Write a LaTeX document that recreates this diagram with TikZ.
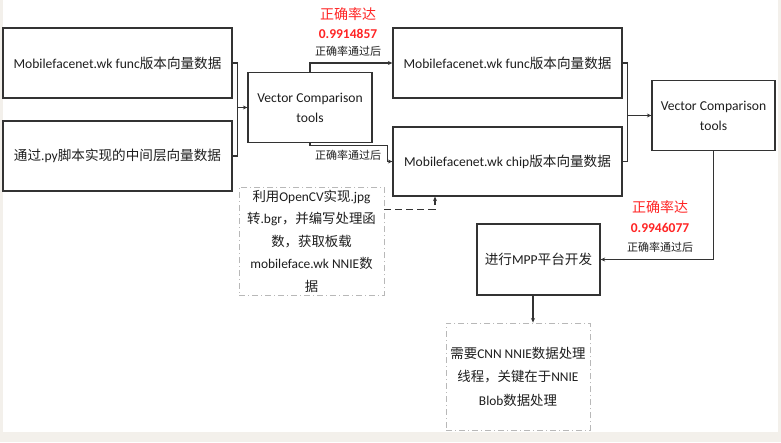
\documentclass[tikz,border=0pt]{standalone}
\usepackage{fontspec}
\setmainfont{Carlito}
\newfontfamily\cjk{Noto Sans CJK SC}
\usetikzlibrary{arrows.meta,calc}
\newcommand{\zh}[1]{{\cjk #1}}
\definecolor{bgbeige}{HTML}{F3F0EB}
\definecolor{lineC}{HTML}{333333}
\definecolor{dashC}{HTML}{B8B8B8}
\definecolor{redC}{HTML}{FF2424}
\definecolor{txtC}{HTML}{1E1E1E}
\begin{document}
\begin{tikzpicture}[x=1pt,y=-1pt,
  solidbox/.style={draw=lineC, line width=1.3pt, fill=white, inner sep=0pt, align=center, text=txtC, font=\fontsize{13.6}{20}\selectfont},
  dashbox/.style={draw=dashC, line width=0.9pt, dash pattern=on 6pt off 3pt on 1pt off 3pt, inner sep=0pt, align=center, text=txtC, font=\fontsize{13.4}{22.5}\selectfont},
  conn/.style={draw=lineC, line width=1.3pt},
  arr/.style={conn, -{Stealth[length=4.5pt,width=4pt]}},
  dasharr/.style={arr, dash pattern=on 7pt off 4pt},
  redtop/.style={text=redC, font=\cjk\fontsize{14}{16}\selectfont},
  rednum/.style={text=redC, font=\bfseries\fontsize{13.5}{15}\selectfont},
  passlbl/.style={text=txtC, font=\cjk\fontsize{11}{12}\selectfont}
]
% background
\fill[bgbeige] (0,0) rectangle (781,442);
\fill[white] (3,0) rectangle (778,432);
\useasboundingbox (0,0) rectangle (781,442);

% nodes
\node[solidbox, minimum width=229, minimum height=70] (A) at (117.5,63) {Mobilefacenet.wk func\zh{版本向量数据}};
\node[solidbox, minimum width=229, minimum height=70] (B) at (117.5,156) {\zh{通过}.py\zh{脚本实现的中间层向量数据}};
\node[solidbox, minimum width=124, minimum height=70] (V1) at (310,107.5) {Vector Comparison\\tools};
\node[solidbox, minimum width=229, minimum height=70] (C) at (507.5,63) {Mobilefacenet.wk func\zh{版本向量数据}};
\node[solidbox, minimum width=229, minimum height=69] (D) at (507.5,161.5) {Mobilefacenet.wk chip\zh{版本向量数据}};
\node[solidbox, minimum width=123, minimum height=70] (V2) at (713.5,115.5) {Vector Comparison\\tools};
\node[dashbox, minimum width=145, minimum height=108] (E) at (311.5,241) {\zh{利用}OpenCV\zh{实现}.jpg\\\zh{转}.bgr\zh{，并编写处理函}\\\zh{数，获取板载}\\mobileface.wk NNIE\zh{数}\\\zh{据}};
\node[solidbox, minimum width=123, minimum height=71] (F) at (538.5,259.5) {\zh{进行}MPP\zh{平台开发}};
\node[dashbox, minimum width=144, minimum height=107, font=\fontsize{13.4}{23.5}\selectfont] (G) at (518,376.5) {\zh{需要}CNN NNIE\zh{数据处理}\\\zh{线程，关键在于}NNIE\\Blob\zh{数据处理}};

% labels
\node[redtop] (r1) at (348,14) {正确率达};
\node[rednum] (n1) at (348,34) {0.9914857};
\node[passlbl] (p1) at (348,51) {正确率通过后};
\node[passlbl] (p2) at (348,155) {正确率通过后};
\node[redtop] (r2) at (660,207) {正确率达};
\node[rednum] (n2) at (660,228) {0.9946077};
\node[passlbl] (p3) at (660,247) {正确率通过后};

% connectors
\coordinate (ma) at ([xshift=5pt]A.east);
\draw[conn] (A.east) -- (ma) |- (B.east);
\draw[arr] (ma |- V1.west) -- (V1.west);

\draw[arr] (V1.north) |- (C.west);
\coordinate (d1) at ([xshift=-5pt]D.west);
\draw[arr] (V1.south) -- ++(0,2.5) -| (d1) -- (D.west);

\coordinate (mc) at ([xshift=5pt]C.east);
\draw[conn] (C.east) -- (mc) |- (D.east);
\draw[arr] (mc |- V2.west) -- (V2.west);

\draw[arr] (V2.south) |- (F.east);

\coordinate (e1) at ([yshift=-23pt]E.north east);
\coordinate (d2) at ([xshift=-72.5pt]D.south);
\draw[dasharr] (e1) -| (d2);

\coordinate (f1) at ([xshift=-5.5pt]F.south);
\draw[arr] (f1) -- (f1 |- G.north);
\end{tikzpicture}
\end{document}
